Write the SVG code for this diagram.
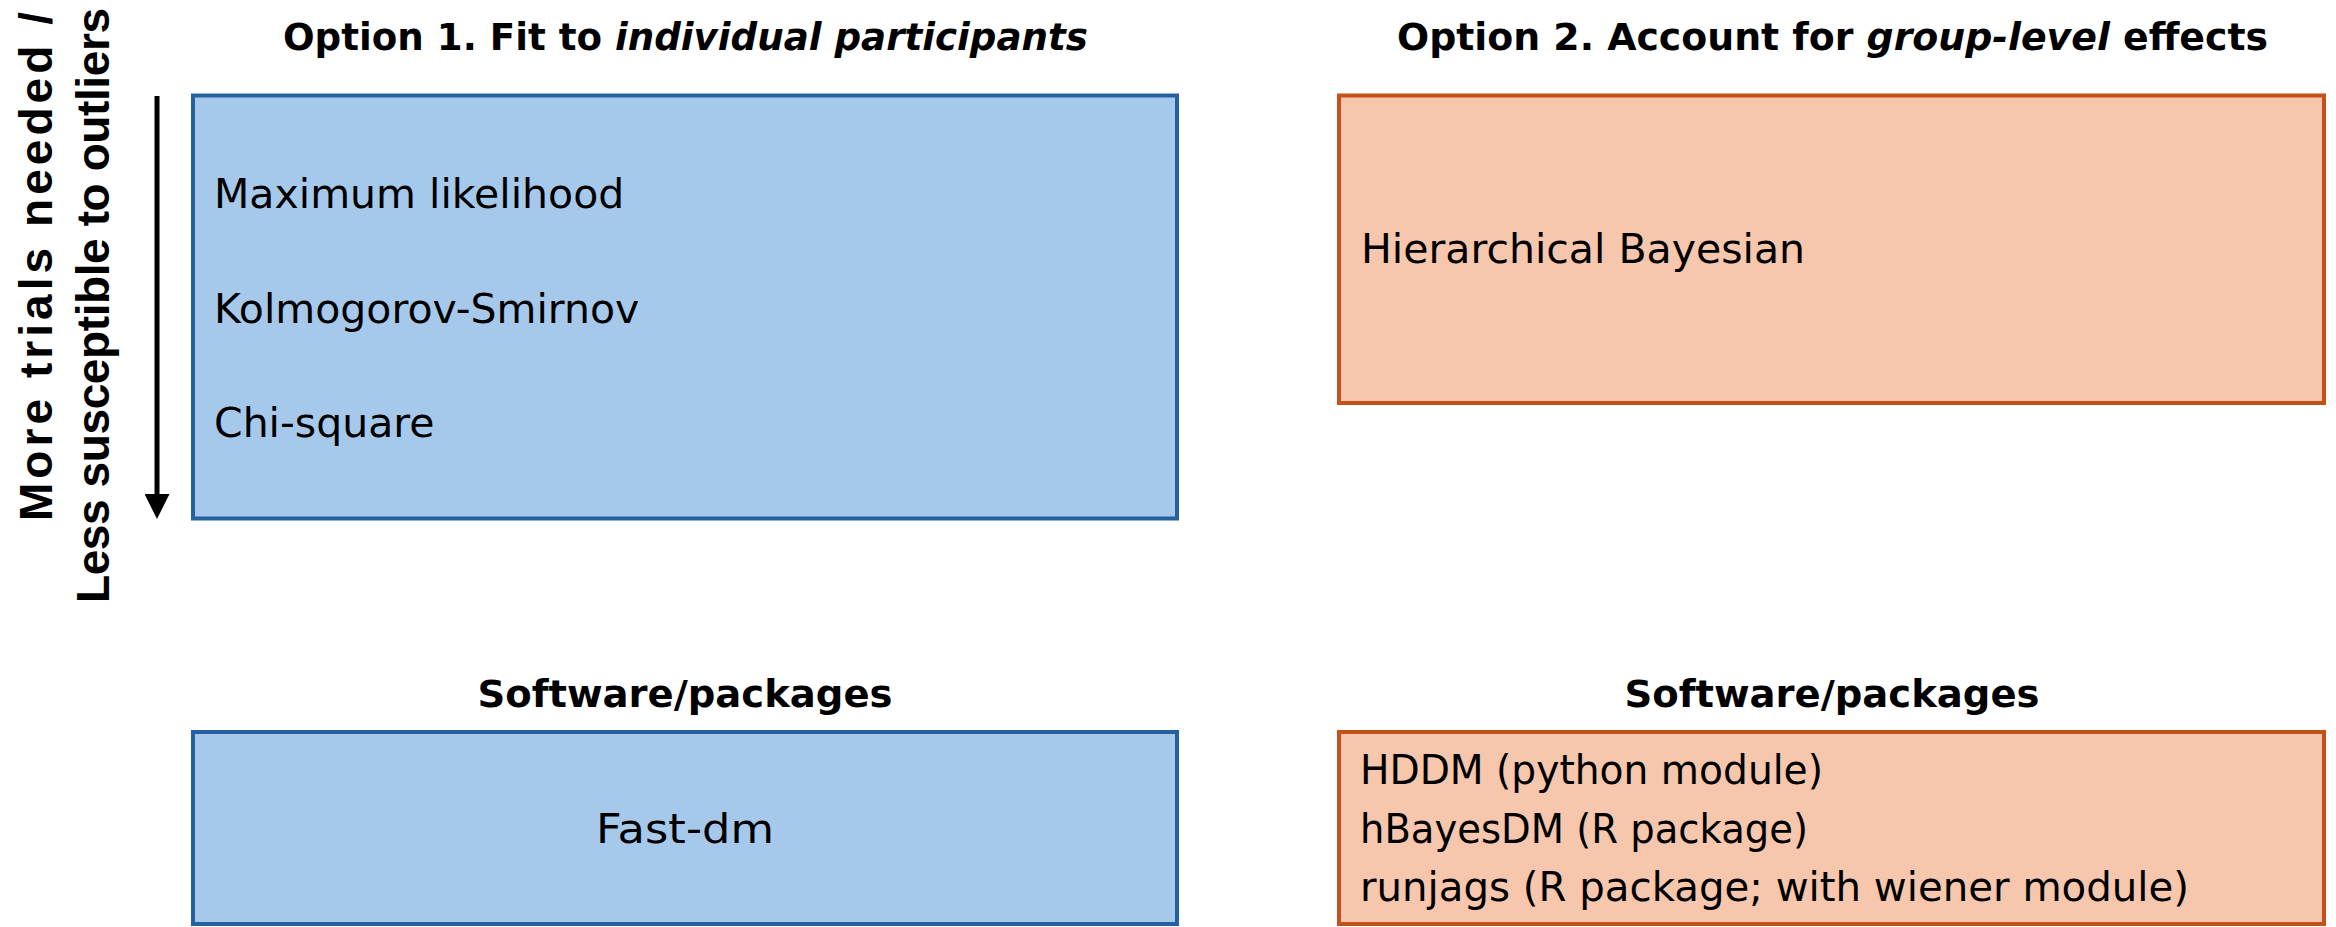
<svg xmlns="http://www.w3.org/2000/svg" width="2336" height="927" viewBox="0 0 2336 927">
  <style>
    .title { font-family: "DejaVu Sans", "Liberation Sans", sans-serif; font-weight: bold; font-size: 37px; fill: #000; }
    .body { font-family: "DejaVu Sans", "Liberation Sans", sans-serif; font-size: 41px; fill: #000; }
    .axis { font-family: "Liberation Sans", Arial, sans-serif; font-weight: bold; font-size: 46px; fill: #000; }
    .blue { fill: #A6C9EB; stroke: #2561A0; stroke-width: 4; }
    .orange { fill: #F6C6AD; stroke: #C4501A; stroke-width: 4; }
  </style>
  <defs>
    <marker id="arrowhead" markerWidth="5" markerHeight="5" refX="0" refY="2.5" orient="auto" markerUnits="strokeWidth">
      <path d="M0,0 L5,2.5 L0,5 Z" fill="#000"/>
    </marker>
  </defs>
  <rect width="2336" height="927" fill="#fff"/>

  <!-- column headings -->
  <text class="title" x="283" y="50" textLength="805" lengthAdjust="spacingAndGlyphs">Option 1. Fit to <tspan font-style="italic">individual participants</tspan></text>
  <text class="title" x="1397" y="50" textLength="871" lengthAdjust="spacingAndGlyphs">Option 2. Account for <tspan font-style="italic">group-level</tspan> effects</text>
  <text class="title" x="685" y="707" text-anchor="middle" textLength="415" lengthAdjust="spacingAndGlyphs">Software/packages</text>
  <text class="title" x="1832" y="707" text-anchor="middle" textLength="415" lengthAdjust="spacingAndGlyphs">Software/packages</text>

  <!-- vertical axis label -->
  <text class="axis" transform="translate(52,521) rotate(-90)" textLength="509" lengthAdjust="spacing">More trials needed /</text>
  <text class="axis" transform="translate(109,603) rotate(-90)" textLength="595" lengthAdjust="spacing">Less susceptible to outliers</text>

  <g id="connectors">
    <line x1="157" y1="96" x2="157" y2="494" stroke="#000" stroke-width="5" marker-end="url(#arrowhead)"/>
  </g>

  <g id="individual-methods">
    <rect class="blue" x="193" y="95.5" width="984" height="423"/>
    <text class="body" x="214" y="208">Maximum likelihood</text>
    <text class="body" x="214" y="323">Kolmogorov-Smirnov</text>
    <text class="body" x="214" y="437">Chi-square</text>
  </g>

  <g id="group-methods">
    <rect class="orange" x="1339" y="95.5" width="985" height="307.5"/>
    <text class="body" x="1361" y="263">Hierarchical Bayesian</text>
  </g>

  <g id="individual-software">
    <rect class="blue" x="193" y="732" width="984" height="192"/>
    <text class="body" x="685" y="843" text-anchor="middle" textLength="178" lengthAdjust="spacingAndGlyphs">Fast-dm</text>
  </g>

  <g id="group-software">
    <rect class="orange" x="1339" y="732" width="985" height="192"/>
    <text class="body" x="1360" y="784" textLength="463" lengthAdjust="spacingAndGlyphs">HDDM (python module)</text>
    <text class="body" x="1360" y="843" textLength="448" lengthAdjust="spacingAndGlyphs">hBayesDM (R package)</text>
    <text class="body" x="1360" y="901" textLength="829" lengthAdjust="spacingAndGlyphs">runjags (R package; with wiener module)</text>
  </g>
</svg>
